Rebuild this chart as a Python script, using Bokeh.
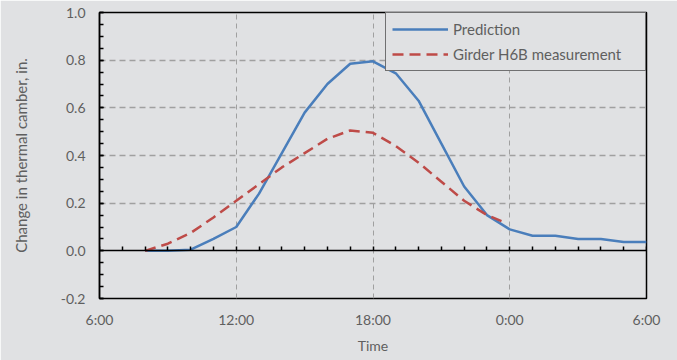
from bokeh.plotting import figure
from bokeh.models import (LinearAxis, FixedTicker, SingleIntervalTicker, Range1d,
                          Legend, LegendItem)
from bokeh.embed import file_html
from bokeh.resources import INLINE

# Data (hours since midnight of day 1; 24 = 0:00 next day)
pred_hours = [8, 9, 10, 11, 12, 13, 14, 15, 16, 17, 18, 19, 20, 21, 22, 23, 24, 25, 26, 27, 28, 29, 30]
pred_vals = [0.0, 0.0, 0.005, 0.05, 0.10, 0.24, 0.41, 0.58, 0.70, 0.785, 0.795, 0.745, 0.63, 0.45,
             0.27, 0.15, 0.09, 0.063, 0.063, 0.05, 0.05, 0.037, 0.037]
meas_hours = [8, 9, 10, 11, 12, 13, 14, 15, 16, 17, 18, 19, 20, 21, 22, 23, 23.75]
meas_vals = [0.0, 0.03, 0.075, 0.14, 0.21, 0.28, 0.35, 0.41, 0.47, 0.505, 0.495, 0.44, 0.37,
             0.29, 0.21, 0.15, 0.12]
x_tick_pos = [6, 12, 18, 24, 30]
x_tick_labels = ["6:00", "12:00", "18:00", "0:00", "6:00"]
series_names = ["Prediction", "Girder H6B measurement"]

BG = "#e0e1e3"
TXT = "#5f5f5f"
FONT = "Lato"

p = figure(width=677, height=360, output_backend="svg", toolbar_location=None,
           x_range=Range1d(6, 30), y_range=Range1d(-0.2, 1.0),
           min_border_left=99, min_border_right=31, min_border_top=12, min_border_bottom=62,
           background_fill_color=BG, border_fill_color=BG)
p.outline_line_color = "black"
p.outline_line_width = 1.5

# x axis: labels only (below frame)
xa = p.xaxis[0]
xa.ticker = FixedTicker(ticks=x_tick_pos)
xa.major_label_overrides = {t: l for t, l in zip(x_tick_pos, x_tick_labels)}
xa.axis_line_color = None
xa.major_tick_line_color = None
xa.minor_tick_line_color = None
xa.major_tick_in = 0
xa.major_tick_out = 0
xa.minor_tick_in = 0
xa.minor_tick_out = 0
xa.major_label_standoff = 12
xa.major_label_text_font = FONT
xa.major_label_text_font_size = "14px"
xa.major_label_text_color = TXT
xa.axis_label = "Time"
xa.axis_label_text_font = FONT
xa.axis_label_text_font_size = "14px"
xa.axis_label_text_font_style = "normal"
xa.axis_label_text_color = TXT
xa.axis_label_standoff = 6

# zero axis with hourly ticks
za = LinearAxis(fixed_location=0, ticker=SingleIntervalTicker(interval=1, num_minor_ticks=0))
za.axis_line_color = "black"
za.axis_line_width = 1.5
za.major_tick_in = 4
za.major_tick_out = 0
za.major_tick_line_color = "black"
za.major_tick_line_width = 1.5
za.minor_tick_line_color = None
za.minor_tick_in = 0
za.minor_tick_out = 0
za.major_label_standoff = 0
za.major_label_text_alpha = 0
za.major_label_text_font_size = "1px"
p.add_layout(za, "below")

# y axis
ya = p.yaxis[0]
ya.ticker = SingleIntervalTicker(interval=0.2, num_minor_ticks=4)
ya.major_label_overrides = {1.0: "1.0", 0.8: "0.8", 0.6: "0.6", 0.4: "0.4", 0.2: "0.2",
                            0.0: "0.0", -0.2: "-0.2"}
ya.axis_line_color = "black"
ya.axis_line_width = 1.5
ya.major_tick_in = 4
ya.major_tick_out = 0
ya.minor_tick_in = 4
ya.minor_tick_out = 0
ya.major_tick_line_width = 1.5
ya.minor_tick_line_width = 1.5
ya.major_label_standoff = 14
ya.major_label_text_font = FONT
ya.major_label_text_font_size = "14px"
ya.major_label_text_color = TXT
ya.axis_label = "Change in thermal camber, in."
ya.axis_label_text_font = FONT
ya.axis_label_text_font_size = "15px"
ya.axis_label_text_font_style = "normal"
ya.axis_label_text_color = TXT
ya.axis_label_standoff = 28

# grids
p.xgrid.ticker = FixedTicker(ticks=[12, 18, 24])
p.xgrid.grid_line_color = "#a0a0a0"
p.xgrid.grid_line_dash = "5 4"
p.xgrid.grid_line_width = 1
p.ygrid.ticker = FixedTicker(ticks=[0.2, 0.4, 0.6, 0.8])
p.ygrid.grid_line_color = "#a0a0a0"
p.ygrid.grid_line_dash = "6 4"
p.ygrid.grid_line_width = 1.5

r1 = p.line(pred_hours, pred_vals, line_color="#4a7ebb", line_width=2.5)
r2 = p.line(meas_hours, meas_vals, line_color="#be4b48", line_width=2.5, line_dash="11 6")

legend = Legend(items=[LegendItem(label=series_names[0], renderers=[r1]),
                       LegendItem(label=series_names[1], renderers=[r2])],
                location="top_right")
legend.margin = 0
legend.padding = 6
legend.spacing = 5
legend.glyph_width = 56
legend.glyph_height = 20
legend.label_height = 20
legend.label_width = 186
legend.label_standoff = 5
legend.label_text_font = FONT
legend.label_text_font_size = "15px"
legend.label_text_color = TXT
legend.border_line_color = "black"
legend.border_line_width = 1.5
legend.background_fill_color = BG
legend.background_fill_alpha = 1
p.add_layout(legend, "center")

open("out.html", "w").write(file_html(p, INLINE))
